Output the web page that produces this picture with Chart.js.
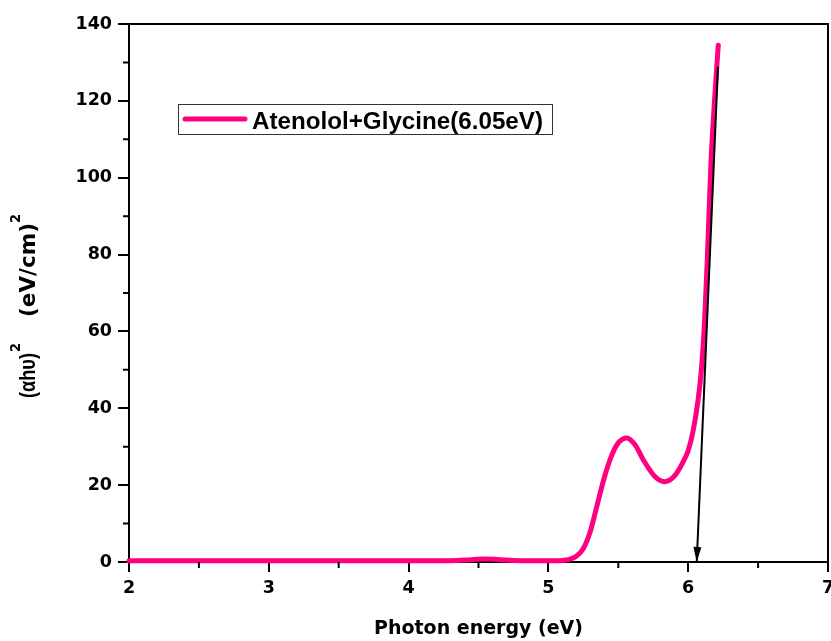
<!DOCTYPE html>
<html><head><meta charset="utf-8">
<script src="https://cdn.jsdelivr.net/npm/chart.js@4.4.0/dist/chart.umd.min.js"></script>
<style>html,body{margin:0;padding:0;background:#fff}#wrap{width:831px;height:641px}</style>
</head><body><div id="wrap"><canvas id="c" width="831" height="641"></canvas></div>
<script>
// ---- data ----
const energy = [2.0, 2.5, 3.0, 3.5, 4.0, 4.3, 4.45, 4.55, 4.65, 4.8, 5.0, 5.1, 5.15, 5.2, 5.25, 5.3, 5.35, 5.4, 5.45, 5.5, 5.56, 5.62, 5.68, 5.76, 5.83, 5.9, 5.96, 6.0, 6.036, 6.07, 6.096, 6.119, 6.139, 6.163, 6.19, 6.215];
const absorb = [0.3, 0.3, 0.3, 0.3, 0.3, 0.35, 0.6, 0.8, 0.6, 0.35, 0.3, 0.4, 0.7, 1.5, 3.5, 8, 15, 22, 27.5, 31, 32.3, 30.5, 26.5, 22.3, 20.9, 22.3, 25.8, 29, 34.3, 42, 50.8, 64, 81, 104, 121, 134.5];
const seriesLabel = 'Atenolol+Glycine(6.05eV)';
const arrowX = [6.213, 6.061];
const arrowY = [128.9, 0];
const xTicks = [2, 3, 4, 5, 6, 7];
const yTicks = [0, 20, 40, 60, 80, 100, 120, 140];
const xMinor = [2.5, 3.5, 4.5, 5.5, 6.5];
const yMinor = [10, 30, 50, 70, 90, 110, 130];
const xTitle = 'Photon energy (eV)';
const yTitleParts = ['(\u03b1h\u03c5)', '2', '(eV/cm)', '2'];

const tickFont = {family: "'DejaVu Sans'", size: 17.5, weight: 'bold'};

const decor = {
  id: 'decor',
  afterDatasetsDraw(chart) {
    const ctx = chart.ctx, xs = chart.scales.x, ys = chart.scales.y;
    // arrow head
    const x0 = xs.getPixelForValue(arrowX[0]), y0 = ys.getPixelForValue(arrowY[0]);
    const x1 = xs.getPixelForValue(arrowX[1]), y1 = ys.getPixelForValue(arrowY[1]);
    const a = Math.atan2(y1 - y0, x1 - x0);
    const L = 15, W = 4;
    ctx.save();
    ctx.fillStyle = '#000';
    ctx.beginPath();
    ctx.moveTo(x1, y1);
    ctx.lineTo(x1 - L*Math.cos(a) + W*Math.sin(a), y1 - L*Math.sin(a) - W*Math.cos(a));
    ctx.lineTo(x1 - L*Math.cos(a) - W*Math.sin(a), y1 - L*Math.sin(a) + W*Math.cos(a));
    ctx.closePath();
    ctx.fill();
    ctx.restore();
  },
  afterDraw(chart) {
    const ctx = chart.ctx, ca = chart.chartArea, xs = chart.scales.x, ys = chart.scales.y;
    ctx.save();
    // top and right frame
    ctx.strokeStyle = '#000';
    ctx.lineWidth = 2;
    ctx.beginPath();
    ctx.moveTo(ca.left, ca.top); ctx.lineTo(ca.right, ca.top); ctx.lineTo(ca.right, ca.bottom);
    ctx.stroke();
    // minor ticks
    ctx.beginPath();
    xMinor.forEach(v => { const p = xs.getPixelForValue(v); ctx.moveTo(p, ca.bottom); ctx.lineTo(p, ca.bottom + 6); });
    yMinor.forEach(v => { const p = ys.getPixelForValue(v); ctx.moveTo(ca.left, p); ctx.lineTo(ca.left - 6, p); });
    ctx.stroke();
    // legend
    const ds = chart.data.datasets[1];
    ctx.lineWidth = 1;
    ctx.strokeStyle = '#333';
    ctx.strokeRect(178.5, 104.5, 374, 30);
    ctx.strokeStyle = ds.borderColor;
    ctx.lineWidth = 5;
    ctx.lineCap = 'round';
    ctx.beginPath(); ctx.moveTo(185, 119); ctx.lineTo(245, 119); ctx.stroke();
    ctx.fillStyle = '#000';
    ctx.font = "bold 24px 'Liberation Sans', Arial";
    ctx.textBaseline = 'alphabetic';
    ctx.textAlign = 'left';
    let w = ctx.measureText(ds.label).width;
    ctx.save(); ctx.translate(252, 129); ctx.scale(291 / w, 1); ctx.fillText(ds.label, 0, 0); ctx.restore();
    // y title with superscripts
    ctx.translate(35, 398);
    ctx.rotate(-Math.PI / 2);
    const seg = [
      {t: yTitleParts[0], x: 0, w: 45, size: 22, fam: "'Liberation Sans'", dy: 0},
      {t: yTitleParts[1], x: 46, w: 9, size: 14, fam: "'DejaVu Sans'", dy: -15},
      {t: yTitleParts[2], x: 81, w: 94, size: 21, fam: "'DejaVu Sans'", dy: 0},
      {t: yTitleParts[3], x: 175, w: 9, size: 14, fam: "'DejaVu Sans'", dy: -15}
    ];
    seg.forEach(s => {
      ctx.font = "bold " + s.size + "px " + s.fam;
      const mw = ctx.measureText(s.t).width;
      ctx.save(); ctx.translate(s.x, s.dy); ctx.scale(s.w / mw, 1); ctx.fillText(s.t, 0, 0); ctx.restore();
    });
    ctx.restore();
  }
};

new Chart(document.getElementById('c'), {
  type: 'line',
  data: {
    datasets: [
      {
        label: 'arrow',
        data: arrowX.map((x, i) => ({x, y: arrowY[i]})),
        borderColor: '#000', borderWidth: 2, pointRadius: 0, tension: 0, order: 0, clip: false
      },
      {
        label: seriesLabel,
        data: energy.map((x, i) => ({x, y: absorb[i]})),
        borderColor: '#FF0080', borderWidth: 5, pointRadius: 0,
        cubicInterpolationMode: 'monotone', borderCapStyle: 'round', borderJoinStyle: 'round',
        order: 1, clip: false
      }
    ]
  },
  options: {
    responsive: false, animation: false, devicePixelRatio: 1,
    layout: {padding: {left: 0, top: 24, right: 3, bottom: 0}},
    plugins: {legend: {display: false}, tooltip: {enabled: false}},
    scales: {
      x: {
        type: 'linear', min: 2, max: 7,
        afterBuildTicks: s => { s.ticks = xTicks.map(v => ({value: v})); },
        ticks: {font: tickFont, color: '#000', padding: 6, maxRotation: 0, autoSkip: false},
        grid: {drawOnChartArea: false, drawTicks: true, tickLength: 10, color: '#000', lineWidth: 2},
        border: {display: true, color: '#000', width: 2},
        title: {display: true, text: xTitle, color: '#000', font: {family: "'DejaVu Sans'", size: 19, weight: 'bold'}, padding: {top: 0, bottom: 1}},
        afterFit: s => { s.height = 79; s.paddingLeft = 0; s.paddingRight = 0; }
      },
      y: {
        type: 'linear', min: 0, max: 140,
        afterBuildTicks: s => { s.ticks = yTicks.map(v => ({value: v})); },
        ticks: {font: tickFont, color: '#000', padding: 6, autoSkip: false},
        grid: {drawOnChartArea: false, drawTicks: true, tickLength: 11, color: '#000', lineWidth: 2},
        border: {display: true, color: '#000', width: 2},
        afterFit: s => { s.width = 129; s.paddingTop = 0; s.paddingBottom = 0; }
      }
    }
  },
  plugins: [decor]
});
</script></body></html>
